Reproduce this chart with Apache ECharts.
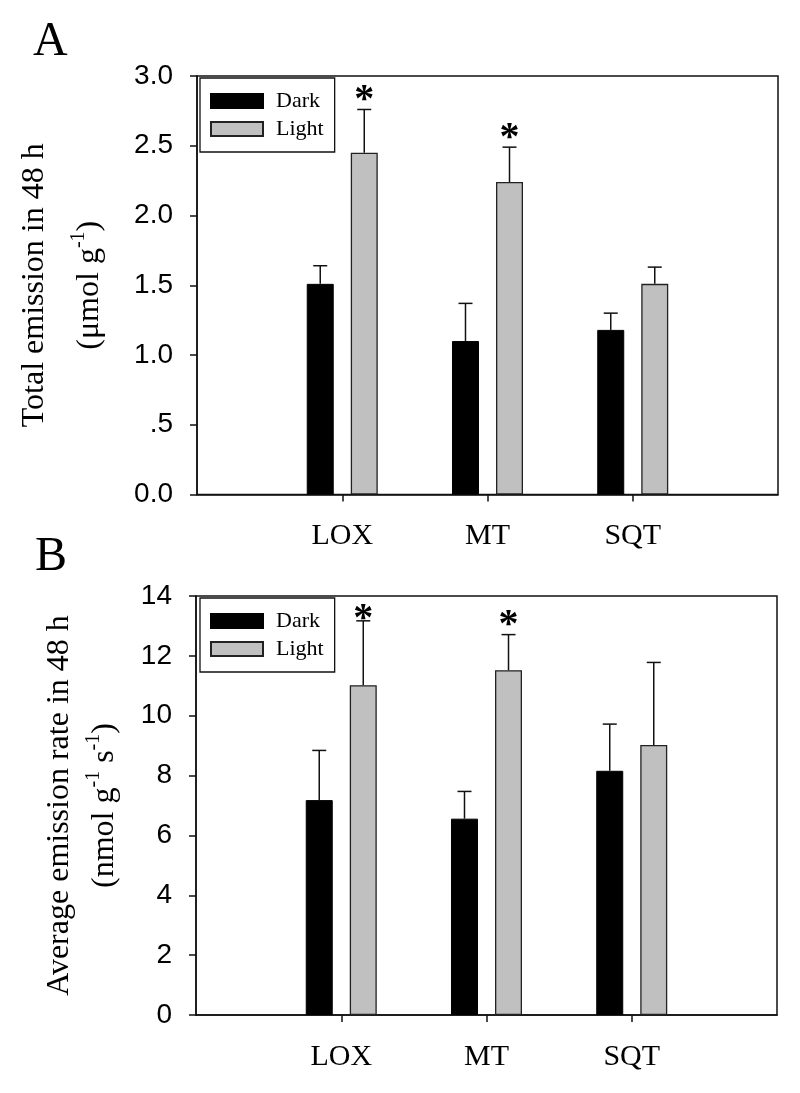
<!DOCTYPE html>
<html><head><meta charset="utf-8">
<script src="https://cdn.jsdelivr.net/npm/echarts@6/dist/echarts.min.js"></script>
<style>html,body{margin:0;padding:0;background:#fff}#c{width:800px;height:1093px}</style>
</head><body><div id="c"></div>
<script>
// ---- data ----
const categories = ['LOX', 'MT', 'SQT'];
const seriesNames = ['Dark', 'Light'];
// Panel A: total emission in 48 h (µmol g-1)
const totalDark = [1.51, 1.10, 1.18];
const totalDarkErr = [0.13, 0.27, 0.12];
const totalLight = [2.45, 2.24, 1.51];
const totalLightErr = [0.31, 0.25, 0.12];
const totalLightSig = [true, true, false];
const totalTicks = ['0.0', '.5', '1.0', '1.5', '2.0', '2.5', '3.0'];
// Panel B: average emission rate in 48 h (nmol g-1 s-1)
const rateDark = [7.18, 6.56, 8.16];
const rateDarkErr = [1.66, 0.91, 1.56];
const rateLight = [11.02, 11.52, 9.02];
const rateLightErr = [2.15, 1.19, 2.76];
const rateLightSig = [true, true, false];
const rateTicks = ['0', '2', '4', '6', '8', '10', '12', '14'];

// ---- styling ----
const SERIF = '"Liberation Serif","Times New Roman",serif';
const SANS = '"Liberation Sans",Arial,sans-serif';
const BAR_W = 27, BAR_GAP = 0.63;
const OFFSET = (BAR_W + BAR_W * BAR_GAP) / 2;
const STAR = 40;
const axisData = [''].concat(categories, ['']);
const pad = arr => [null].concat(arr, [null]);
const inner = i => i > 0 && i < axisData.length - 1;

function errData(dark, darkErr, light, lightErr, sig) {
  const out = [];
  categories.forEach((c, i) => {
    out.push([i + 1, dark[i], darkErr[i], 0, -1]);
    out.push([i + 1, light[i], lightErr[i], sig[i] ? 1 : 0, 1]);
  });
  return out;
}
function renderErr(params, api) {
  const x = api.value(0), v = api.value(1), e = api.value(2), sig = api.value(3), side = api.value(4);
  const base = api.coord([x, v]);
  const top = api.coord([x, v + e]);
  const cx = base[0] + side * OFFSET;
  const cs = params.coordSys;
  const st = { stroke: '#111', lineWidth: 1.5 };
  const children = [
    { type: 'line', shape: { x1: cx, y1: base[1], x2: cx, y2: top[1] }, style: st },
    { type: 'line', shape: { x1: cx - 7, y1: top[1], x2: cx + 7, y2: top[1] }, style: st }
  ];
  if (sig) {
    const cy = Math.max(top[1] - 15, cs.y + 17);
    children.push({ type: 'text', style: { text: '*', x: cx, y: cy + 0.16 * STAR, align: 'center', verticalAlign: 'middle', font: 'bold ' + STAR + 'px ' + SERIF, fill: '#000' } });
  }
  return { type: 'group', children };
}

function xAxis(gi) {
  return {
    type: 'category', gridIndex: gi, data: axisData, boundaryGap: false,
    axisLine: { lineStyle: { color: '#111', width: 1.5 } },
    axisTick: { show: true, inside: false, length: 7, interval: inner, lineStyle: { color: '#111', width: 1.5 } },
    axisLabel: { interval: inner, margin: 27, color: '#000', fontFamily: SERIF, fontSize: 30 },
    splitLine: { show: false }
  };
}
function yAxis(gi, max, interval, ticks, name, gap, line1H) {
  return {
    type: 'value', gridIndex: gi, min: 0, max: max, interval: interval,
    axisLine: { show: true, lineStyle: { color: '#111', width: 1.5 } },
    axisTick: { show: true, inside: false, length: 7, lineStyle: { color: '#111', width: 1.5 } },
    axisLabel: { margin: 24, color: '#000', fontFamily: SANS, fontSize: 28,
      formatter: v => ticks[Math.round(v / interval)] },
    splitLine: { show: false },
    name: name, nameLocation: 'middle', nameRotate: 90, nameGap: gap,
    nameTextStyle: {
      rich: {
        h: { fontFamily: SERIF, fontSize: 32, lineHeight: line1H, verticalAlign: 'top', color: '#000' },
        t: { fontFamily: SERIF, fontSize: 32, lineHeight: 37, verticalAlign: 'bottom', color: '#000' },
        s: { fontFamily: SERIF, fontSize: 20, lineHeight: 37, verticalAlign: 'top', color: '#000' }
      }
    }
  };
}
function legend(top) {
  return {
    data: seriesNames, orient: 'vertical', left: 200, top: top, selectedMode: false,
    icon: 'rect', itemWidth: 52, itemHeight: 14, itemGap: 6,
    padding: [12, 11, 12, 10], borderColor: '#111', borderWidth: 1.3,
    textStyle: { fontFamily: SERIF, fontSize: 22, color: '#000', padding: [0, 0, 0, 8] }
  };
}
const darkStyle = { color: '#000', borderColor: '#000', borderWidth: 1 };
const lightStyle = { color: '#c0c0c0', borderColor: '#222', borderWidth: 1.3 };
const letterStyle = { fontFamily: SERIF, fontSize: 48, fontWeight: 'normal', color: '#000' };

const option = {
  animation: false,
  backgroundColor: '#fff',
  title: [
    { text: 'A', left: 28, top: 13, textStyle: letterStyle },
    { text: 'B', left: 30, top: 528, textStyle: letterStyle }
  ],
  legend: [legend(78), legend(598)],
  grid: [
    { left: 197, top: 76, right: 22, height: 418.5, show: true, borderColor: '#111', borderWidth: 1.5 },
    { left: 196, top: 596, right: 23, height: 419, show: true, borderColor: '#111', borderWidth: 1.5 }
  ],
  xAxis: [xAxis(0), xAxis(1)],
  yAxis: [
    yAxis(0, 3, 0.5, totalTicks, '{h|Total emission in 48 h}\n{t|(μmol g}{s|-1}{t|)}', 91, 50),
    yAxis(1, 14, 2, rateTicks, '{h|Average emission rate in 48 h}\n{t|(nmol g}{s|-1}{t| s}{s|-1}{t|)}', 75, 40)
  ],
  series: [
    { name: 'Dark', type: 'bar', xAxisIndex: 0, yAxisIndex: 0, data: pad(totalDark), barWidth: BAR_W, barGap: (BAR_GAP * 100) + '%', itemStyle: darkStyle },
    { name: 'Light', type: 'bar', xAxisIndex: 0, yAxisIndex: 0, data: pad(totalLight), barWidth: BAR_W, barGap: (BAR_GAP * 100) + '%', itemStyle: lightStyle },
    { name: 'Dark', type: 'bar', xAxisIndex: 1, yAxisIndex: 1, data: pad(rateDark), barWidth: BAR_W, barGap: (BAR_GAP * 100) + '%', itemStyle: darkStyle },
    { name: 'Light', type: 'bar', xAxisIndex: 1, yAxisIndex: 1, data: pad(rateLight), barWidth: BAR_W, barGap: (BAR_GAP * 100) + '%', itemStyle: lightStyle },
    { name: 'errA', type: 'custom', xAxisIndex: 0, yAxisIndex: 0, z: 5, renderItem: renderErr,
      data: errData(totalDark, totalDarkErr, totalLight, totalLightErr, totalLightSig), clip: false },
    { name: 'errB', type: 'custom', xAxisIndex: 1, yAxisIndex: 1, z: 5, renderItem: renderErr,
      data: errData(rateDark, rateDarkErr, rateLight, rateLightErr, rateLightSig), clip: false }
  ]
};
const chart = echarts.init(document.getElementById('c'), null, { renderer: 'canvas' });
chart.setOption(option);
</script>
</body></html>
